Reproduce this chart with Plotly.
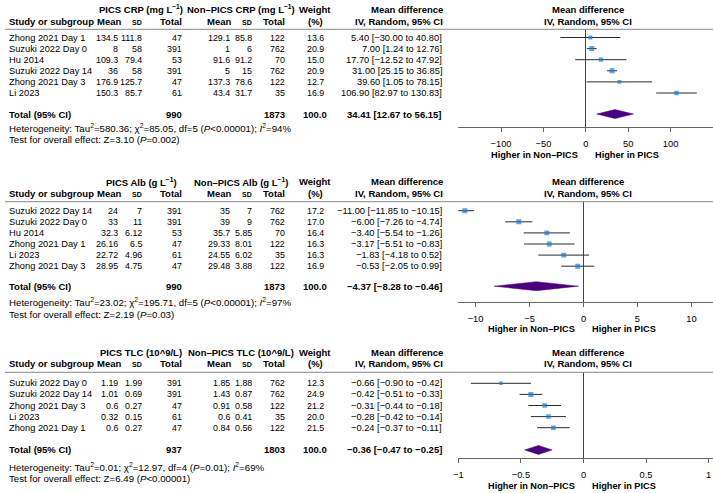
import plotly.graph_objects as go
import math

W, H = 713, 493
FONT = "Liberation Sans, Arial, sans-serif"

# ---------------- DATA ----------------
# Panel 1: CRP
crp_study = ["Zhong 2021 Day 1", "Suzuki 2022 Day 0", "Hu 2014", "Suzuki 2022 Day 14", "Zhong 2021 Day 3", "Li 2023"]
crp_pics_mean = [134.5, 8, 109.3, 36, 176.9, 150.3]
crp_pics_sd = [111.8, 58, 79.4, 58, 125.7, 85.7]
crp_pics_n = [47, 391, 53, 391, 47, 61]
crp_non_mean = [129.1, 1, 91.6, 5, 137.3, 43.4]
crp_non_sd = [85.8, 6, 91.2, 15, 78.6, 31.7]
crp_non_n = [122, 762, 70, 762, 122, 35]
crp_weight = [13.6, 20.9, 15.0, 20.9, 12.7, 16.9]
crp_md = [5.40, 7.00, 17.70, 31.00, 39.60, 106.90]
crp_lo = [-30.00, 1.24, -12.52, 25.15, 1.05, 82.97]
crp_hi = [40.80, 12.76, 47.92, 36.85, 78.15, 130.83]
crp_total = [990, 1873, 100.0, 34.41, 12.67, 56.15]
crp_het = ["580.36", "85.05", "5", "&lt;0.00001", "94", "3.10", "=0.002"]
crp_ticks = [-100, -50, 0, 50, 100]

# Panel 2: Albumin
alb_study = ["Suzuki 2022 Day 14", "Suzuki 2022 Day 0", "Hu 2014", "Zhong 2021 Day 1", "Li 2023", "Zhong 2021 Day 3"]
alb_pics_mean = [24, 33, 32.3, 26.16, 22.72, 28.95]
alb_pics_sd = [7, 11, 6.12, 6.5, 4.96, 4.75]
alb_pics_n = [391, 391, 53, 47, 61, 47]
alb_non_mean = [35, 39, 35.7, 29.33, 24.55, 29.48]
alb_non_sd = [7, 9, 5.85, 8.01, 6.02, 3.88]
alb_non_n = [762, 762, 70, 122, 35, 122]
alb_weight = [17.2, 17.0, 16.4, 16.3, 16.3, 16.9]
alb_md = [-11.00, -6.00, -3.40, -3.17, -1.83, -0.53]
alb_lo = [-11.85, -7.26, -5.54, -5.51, -4.18, -2.05]
alb_hi = [-10.15, -4.74, -1.26, -0.83, 0.52, 0.99]
alb_total = [990, 1873, 100.0, -4.37, -8.28, -0.46]
alb_het = ["23.02", "195.71", "5", "&lt;0.00001", "97", "2.19", "=0.03"]
alb_ticks = [-10, -5, 0, 5, 10]

# Panel 3: TLC
tlc_study = ["Suzuki 2022 Day 0", "Suzuki 2022 Day 14", "Zhong 2021 Day 3", "Li 2023", "Zhong 2021 Day 1"]
tlc_pics_mean = [1.19, 1.01, 0.6, 0.32, 0.6]
tlc_pics_sd = [1.99, 0.69, 0.27, 0.15, 0.27]
tlc_pics_n = [391, 391, 47, 61, 47]
tlc_non_mean = [1.85, 1.43, 0.91, 0.6, 0.84]
tlc_non_sd = [1.88, 0.87, 0.58, 0.41, 0.56]
tlc_non_n = [762, 762, 122, 35, 122]
tlc_weight = [12.3, 24.9, 21.2, 20.0, 21.5]
tlc_md = [-0.66, -0.42, -0.31, -0.28, -0.24]
tlc_lo = [-0.90, -0.51, -0.44, -0.42, -0.37]
tlc_hi = [-0.42, -0.33, -0.18, -0.14, -0.11]
tlc_total = [937, 1803, 100.0, -0.36, -0.47, -0.25]
tlc_het = ["0.01", "12.97", "4", "=0.01", "69", "6.49", "&lt;0.00001"]
tlc_ticks = [-1, -0.5, 0, 0.5, 1]

group_labels = [
    ("PICS CRP (mg L<sup>−1</sup>)", "Non–PICS CRP (mg L<sup>−1</sup>)"),
    ("PICS Alb (g L<sup>−1</sup>)", "Non–PICS Alb (g L<sup>−1</sup>)"),
    ("PICS TLC (10^9/L)", "Non–PICS TLC (10^9/L)"),
]

panels = [
    dict(study=crp_study, pm=crp_pics_mean, ps=crp_pics_sd, pn=crp_pics_n,
         nm=crp_non_mean, ns=crp_non_sd, nn=crp_non_n, w=crp_weight,
         md=crp_md, lo=crp_lo, hi=crp_hi, tot=crp_total, het=crp_het, ticks=crp_ticks),
    dict(study=alb_study, pm=alb_pics_mean, ps=alb_pics_sd, pn=alb_pics_n,
         nm=alb_non_mean, ns=alb_non_sd, nn=alb_non_n, w=alb_weight,
         md=alb_md, lo=alb_lo, hi=alb_hi, tot=alb_total, het=alb_het, ticks=alb_ticks),
    dict(study=tlc_study, pm=tlc_pics_mean, ps=tlc_pics_sd, pn=tlc_pics_n,
         nm=tlc_non_mean, ns=tlc_non_sd, nn=tlc_non_n, w=tlc_weight,
         md=tlc_md, lo=tlc_lo, hi=tlc_hi, tot=tlc_total, het=tlc_het, ticks=tlc_ticks),
]

# ---------------- LAYOUT (pixels) ----------------
S = 11.1  # row spacing
geo = [
    dict(row1=37.5, line=29.3, axis=126.7, gap=1.9, gh=9.3, ch=21.2, het=128.3, test=139.7, higher=155.0,
         xr=[-150.4, 150.0]),
    dict(row1=210.7, line=201.7, axis=301.7, gap=1.8, gh=182.0, ch=193.5, het=301.7, test=314.3, higher=329.0,
         xr=[-11.6, 12.0]),
    dict(row1=383.3, line=372.3, axis=458.3, gap=2.0, gh=352.0, ch=363.5, het=466.7, test=478.0, higher=486.0,
         xr=[-1.0, 1.035]),
]
XL = 456.5  # forest left pixel
COLX = dict(pm=114.5, ps=138.5, pn=179.5, nm=227.5, ns=250, nn=283, w=312.5, ci=441)
HDRX = dict(pm=117.5, ps=138.5, pn=179.5, nm=229, ns=250, nn=283)

BLUE = "#1A78E0"
PURPLE = "#4B0082"
LINE = "#2a2a2a"
AXC = "#666666"
FS = 9.3
FSN = 8.9
FSB = 9.5
FSH = 9.7


def fmt(v):
    return f"{v:g}"


def fmt2(v):
    return f"{v:.2f}".replace("-", "−")


def paper_y(py):
    return 1 - py / H


def paper_x(px):
    return px / W


fig = go.Figure()
annotations = []
shapes = []


def ann(text, x, y, xanchor="right", bold=False, size=None, xref="paper", yref="paper", **kw):
    annotations.append(dict(
        text=f"<b>{text}</b>" if bold else text, x=x, y=y, xref=xref, yref=yref,
        xanchor=xanchor, yanchor="middle", showarrow=False,
        font=dict(family=FONT, size=size or (FSB if bold else FS), color="black"), borderpad=0, **kw))


for k, (p, g) in enumerate(zip(panels, geo), start=1):
    ax = "" if k == 1 else str(k)
    n = len(p["study"])
    rows = list(range(1, n + 1))
    tot_idx = n + g["gap"]

    def idx(py):
        return 1 + (py - g["row1"]) / S

    fig.update_layout(**{
        f"xaxis{ax}": dict(domain=[XL / W, 1], anchor=f"y{ax}", range=g["xr"], tickvals=p["ticks"],
                           ticks="outside", ticklen=4, tickcolor=AXC, showline=True, linecolor=AXC,
                           linewidth=1, showgrid=False, zeroline=True, zerolinecolor="#444444",
                           zerolinewidth=1, tickfont=dict(family=FONT, size=9.3, color="black"),
                           ticklabelstandoff=4, fixedrange=True),
        f"yaxis{ax}": dict(domain=[paper_y(g["axis"]), paper_y(g["line"])], anchor=f"x{ax}",
                           range=[idx(g["axis"]), idx(g["line"])], visible=False, fixedrange=True),
    })

    wmax = max(p["w"])
    sizes = [5.0 * math.sqrt(w / wmax) for w in p["w"]]
    fig.add_trace(go.Scatter(
        x=p["md"], y=rows, mode="markers", xaxis=f"x{ax}", yaxis=f"y{ax}",
        marker=dict(symbol="square", size=sizes, color=BLUE, line=dict(width=0)),
        error_x=dict(type="data", symmetric=False,
                     array=[h - m for h, m in zip(p["hi"], p["md"])],
                     arrayminus=[m - l for m, l in zip(p["md"], p["lo"])],
                     width=0, thickness=1, color=LINE),
        showlegend=False, hoverinfo="skip"))

    est, lo, hi = p["tot"][3], p["tot"][4], p["tot"][5]
    hh = 4.5 / S
    fig.add_trace(go.Scatter(
        x=[lo, est, hi, est, lo], y=[tot_idx, tot_idx - hh, tot_idx, tot_idx + hh, tot_idx],
        mode="lines", fill="toself", fillcolor=PURPLE, line=dict(color=PURPLE, width=0.5),
        xaxis=f"x{ax}", yaxis=f"y{ax}", showlegend=False, hoverinfo="skip"))

    shapes.append(dict(type="line", xref="paper", yref="paper", x0=0, x1=1,
                       y0=paper_y(g["line"]), y1=paper_y(g["line"]),
                       line=dict(color="#888888", width=1)))

    gl = group_labels[k - 1]
    ann(gl[0], paper_x(137), paper_y(g["gh"]), xanchor="center", bold=True)
    ann(gl[1], paper_x(238), paper_y(g["gh"]), xanchor="center", bold=True)
    ann("Weight", paper_x(COLX["w"]), paper_y(g["gh"]), xanchor="center", bold=True)
    ann("Mean difference", paper_x(COLX["ci"] + 1.5), paper_y(g["gh"]), xanchor="right", bold=True)
    ann("Mean difference", paper_x(587.5), paper_y(g["gh"]), xanchor="center", bold=True)
    ann("Study or subgroup", paper_x(3), paper_y(g["ch"]), xanchor="left", bold=True)
    for key, lab in [("pm", "Mean"), ("ps", "sd"), ("pn", "Total"), ("nm", "Mean"), ("ns", "sd"), ("nn", "Total")]:
        x = HDRX[key]
        if lab == "sd":
            annotations.append(dict(text="<b>sd</b>", x=paper_x(x), y=paper_y(g["ch"]), xref="paper",
                                    yref="paper", xanchor="right", yanchor="middle", showarrow=False,
                                    borderpad=0,
                                    font=dict(family=FONT, size=FSB, color="black", variant="small-caps")))
        else:
            ann(lab, paper_x(x), paper_y(g["ch"]), bold=True)
    ann("(%)", paper_x(COLX["w"]), paper_y(g["ch"]), xanchor="center", bold=True)
    ann("IV, Random, 95% CI", paper_x(COLX["ci"] + 1.5), paper_y(g["ch"]), bold=True)
    ann("IV, Random, 95% CI", paper_x(587.5), paper_y(g["ch"]), xanchor="center", bold=True)

    ya = f"y{ax}"
    for i, r in enumerate(rows):
        ann(p["study"][i], paper_x(3), r, xanchor="left", yref=ya)
        ann(fmt(p["pm"][i]), paper_x(COLX["pm"]), r, yref=ya, size=FSN)
        ann(fmt(p["ps"][i]), paper_x(COLX["ps"]), r, yref=ya, size=FSN)
        ann(fmt(p["pn"][i]), paper_x(COLX["pn"]), r, yref=ya, size=FSN)
        ann(fmt(p["nm"][i]), paper_x(COLX["nm"]), r, yref=ya, size=FSN)
        ann(fmt(p["ns"][i]), paper_x(COLX["ns"]), r, yref=ya, size=FSN)
        ann(fmt(p["nn"][i]), paper_x(COLX["nn"]), r, yref=ya, size=FSN)
        ann(f"{p['w'][i]:.1f}", paper_x(COLX["w"]), r, xanchor="center", yref=ya, size=FSN)
        ann(f"{fmt2(p['md'][i])} [{fmt2(p['lo'][i])} to {fmt2(p['hi'][i])}]",
            paper_x(COLX["ci"]), r, yref=ya)

    t = p["tot"]
    ann("Total (95% CI)", paper_x(3), tot_idx, xanchor="left", bold=True, yref=ya)
    ann(str(t[0]), paper_x(COLX["pn"]), tot_idx, bold=True, yref=ya)
    ann(str(t[1]), paper_x(COLX["nn"]), tot_idx, bold=True, yref=ya)
    ann(f"{t[2]:.1f}", paper_x(COLX["w"]), tot_idx, xanchor="center", bold=True, yref=ya)
    ann(f"{fmt2(t[3])} [{fmt2(t[4])} to {fmt2(t[5])}]", paper_x(COLX["ci"]), tot_idx, bold=True, yref=ya)

    h = p["het"]
    ann(f"Heterogeneity: Tau<sup>2</sup>={h[0]}; χ<sup>2</sup>={h[1]}, df={h[2]} (<i>P</i>{h[3]}); "
        f"<i>I</i><sup>2</sup>={h[4]}%", paper_x(3), paper_y(g["het"]), xanchor="left", size=FSH)
    ann(f"Test for overall effect: Z={h[5]} (<i>P</i>{h[6]})", paper_x(3), paper_y(g["test"]),
        xanchor="left", size=FSH)

    ann("Higher in Non–PICS", 0, paper_y(g["higher"]), xref=f"x{ax}", xanchor="right", bold=True,
        size=9.2, xshift=-7)
    ann("Higher in PICS", 0, paper_y(g["higher"]), xref=f"x{ax}", xanchor="left", bold=True,
        size=9.2, xshift=8)

fig.update_layout(
    width=W, height=H, autosize=False,
    margin=dict(l=0, r=0, t=0, b=0),
    paper_bgcolor="white", plot_bgcolor="white",
    font=dict(family=FONT, size=FS, color="black"),
    annotations=annotations, shapes=shapes, showlegend=False,
)

fig.write_html("out.html", config={"displayModeBar": False, "staticPlot": True},
               post_script="document.body.style.margin='0';")
